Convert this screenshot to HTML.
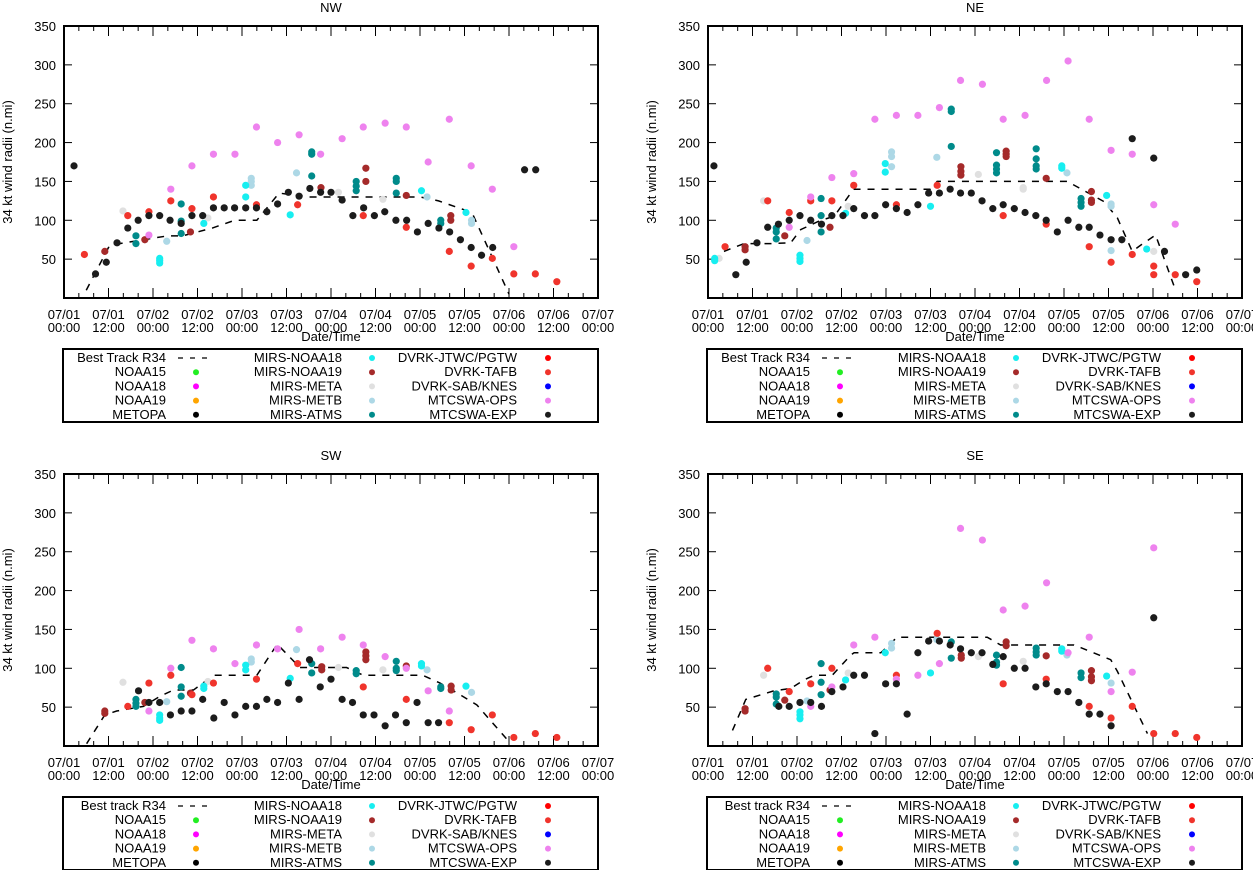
<!DOCTYPE html>
<html><head><meta charset="utf-8"><style>
body{margin:0;background:#fff;width:1253px;height:870px;overflow:hidden;font-family:"Liberation Sans",sans-serif;}
svg{position:absolute;left:0;top:0}
text{font-family:"Liberation Sans",sans-serif;font-size:13px;fill:#000}
</style></head><body>
<svg id="chart" width="1253" height="870"></svg>
<script>
const panelNames=["NW","NE","SW","SE"];
const xTickLabels=["07/01","07/01","07/02","07/02","07/03","07/03","07/04","07/04","07/05","07/05","07/06","07/06","07/07"];
const xTickTimes=["00:00","12:00","00:00","12:00","00:00","12:00","00:00","12:00","00:00","12:00","00:00","12:00","00:00"];
const yTicks=[50,100,150,200,250,300,350];
// data: [hours since 07/01 00:00, radius n.mi]
const nwBest=[[6,10],[12,65],[15,70],[28,80],[32,80],[40,90],[46,100],[52,100],[58,135],[66,130],[96,130],[101,125],[110,110],[120,5]];
const nwBlack=[[2.7,170],[8.5,31],[11.4,46],[14.3,71],[17.2,90],[20,100],[22.9,106],[25.8,106],[28.6,100],[31.6,96],[34.5,106],[37.4,106],[40.3,116],[43.2,116],[46,116],[49,116],[51.9,116],[54.7,111],[57.6,121],[60.5,136],[63.4,131],[66.3,141],[69.2,136],[72,136],[75,126],[77.9,106],[80.8,116],[83.7,106],[86.5,111],[89.5,100],[92.4,100],[95.3,85],[98.2,96],[101.1,90],[104,85],[106.9,75],[109.8,65],[112.6,55],[115.6,65],[124.2,165],[127.2,165]];
const nwViolet=[[22.9,81],[28.8,140],[34.5,170],[40.3,185],[46.1,185],[51.9,220],[57.6,200],[63.4,210],[69.2,185],[75,205],[80.7,220],[86.6,225],[92.3,220],[98.2,175],[103.9,230],[109.8,170],[115.5,140],[121.3,66]];
const nwRed=[[5.5,56],[17.2,106],[22.9,111],[28.8,125],[34.5,115],[40.3,130],[51.9,120],[63,120],[80.7,106],[92.3,91],[103.9,60],[109.8,41],[115.5,51],[121.3,31],[127.1,31],[132.9,21]];
const nwBrown=[[11,60],[21.8,75],[34.1,85],[69.3,142],[81.4,167],[81.4,150],[92.3,132],[104.3,106],[104.3,100]];
const nwTeal=[[19.4,80],[19.4,70],[31.6,121],[31.6,99],[31.6,83],[66.8,188],[66.8,185],[66.8,157],[78.8,150],[78.8,144],[78.8,138],[89.6,154],[89.6,150],[89.6,135],[101.6,100],[101.6,96]];
const nwCyan=[[25.8,51],[25.8,45],[25.8,48],[49,145],[49,130],[61,107],[96.4,138],[108.4,110],[37.7,96]];
const nwLight=[[27.7,73],[50.5,154],[50.5,150],[50.5,145],[62.7,161],[97.9,130],[109.9,96],[109.9,100]];
const nwGray=[[15.9,112],[38.8,103],[74,136],[86,127]];

const neBest=[[4.3,60],[9.7,70],[17,70],[22.3,71],[25,88],[30.4,100],[34,105],[38.5,135],[39.4,140],[60,140],[61.8,150],[96.9,150],[106.8,124],[110.4,103],[114.4,60],[116.7,68],[120.7,81],[125.7,15]];
const neBlack=[[1.6,170],[7.5,30],[10.3,46],[13.2,71],[16.1,91],[19,95],[21.9,100],[24.8,106],[27.7,100],[30.6,95],[33.4,106],[36.4,106],[39.3,115],[42.2,106],[45,106],[47.9,120],[50.8,115],[53.7,110],[56.6,120],[59.5,135],[62.4,135],[65.3,140],[68.1,135],[71,135],[73.9,125],[76.8,115],[79.6,120],[82.6,115],[85.5,110],[88.4,106],[91.2,100],[94.2,85],[97.1,100],[100,91],[102.8,91],[105.7,81],[108.7,75],[111.6,75],[114.4,205],[120.2,180],[123.1,60],[128.8,30],[131.8,36]];
const neViolet=[[21.9,91],[27.7,130],[33.4,155],[39.3,160],[45,230],[50.8,235],[56.6,235],[62.4,245],[68.1,280],[74,275],[79.6,230],[85.5,235],[91.3,280],[97.1,305],[102.8,230],[108.7,190],[114.4,185],[120.2,120],[126,95]];
const neRed=[[4.6,66],[16.1,125],[21.9,110],[27.7,125],[33.4,125],[39.3,145],[50.8,120],[61.8,145],[79.6,106],[91.2,95],[102.8,66],[108.7,46],[114.4,56],[120.2,41],[120.2,30],[126,30],[131.8,21]];
const neBrown=[[10,66],[10,62],[20.7,80],[32.9,91],[68.2,169],[68.2,163],[68.2,158],[80.4,189],[80.4,185],[80.4,182],[91.2,154],[103.4,137],[103.4,126],[103.4,123]];
const neTeal=[[18.4,90],[18.4,85],[18.4,76],[30.5,128],[30.5,106],[30.5,85],[65.6,243],[65.6,240],[65.6,195],[77.8,187],[77.8,171],[77.8,166],[77.8,161],[88.5,192],[88.5,179],[88.5,170],[88.5,166],[100.6,128],[100.6,123],[100.6,118]];
const neCyan=[[1.8,51],[1.8,48],[24.8,55],[24.8,51],[24.8,47],[47.8,173],[47.8,162],[60,118],[95.4,170],[95.4,167],[107.5,132],[118.3,63],[37.1,109]];
const neLight=[[26.7,74],[49.5,188],[49.5,182],[49.5,169],[61.7,181],[96.8,161],[108.7,118],[108.7,121],[108.7,61]];
const neGray=[[3,51],[15,125],[37.8,118],[72.9,159],[85,140],[85,142],[120.2,60]];

const swBest=[[6.1,3],[11,40],[14.2,45],[21.4,51],[25.9,64],[29.5,72],[34.9,72],[40.3,91],[52,91],[57.5,131],[63.6,101],[76.2,101],[80.7,91],[96.7,91],[101.4,81],[106.8,66],[111.3,53],[120.3,4]];
const swBlack=[[20.1,71],[22.9,56],[25.8,56],[28.7,40],[31.6,45],[34.5,45],[37.4,60],[40.4,36],[43.2,56],[46.1,40],[49,51],[51.9,51],[54.7,60],[57.6,56],[60.5,81],[63.4,60],[66.2,111],[69.1,76],[72,86],[75,60],[77.8,56],[80.7,40],[83.6,40],[86.6,26],[89.4,40],[92.3,30],[95.2,56],[98.2,30],[101,30]];
const swViolet=[[22.9,45],[28.8,100],[34.5,136],[40.3,125],[46.1,106],[51.9,130],[57.6,125],[63.4,150],[69.2,125],[75,140],[80.7,130],[86.6,115],[92.3,100],[98.2,71],[103.9,45]];
const swRed=[[17.2,51],[22.9,81],[28.8,91],[34.5,66],[40.3,81],[51.9,86],[63,106],[80.7,76],[92.3,60],[103.9,30],[109.8,21],[115.5,40],[121.3,11],[127.1,16],[132.9,11]];
const swBrown=[[11,45],[11,42],[21.8,56],[34.1,68],[69.5,102],[69.5,98],[81.4,121],[81.4,116],[81.4,111],[92.3,103],[104.4,77],[104.4,72]];
const swTeal=[[19.4,60],[19.4,55],[19.4,51],[31.6,101],[31.6,76],[31.6,64],[66.8,106],[66.8,94],[78.8,97],[78.8,93],[89.6,109],[89.6,100],[89.6,97],[101.6,76],[101.6,74]];
const swCyan=[[25.8,40],[25.8,36],[25.8,33],[49,104],[49,98],[61,87],[96.4,106],[96.4,103],[108.4,77],[37.7,77],[37.7,74]];
const swLight=[[27.7,57],[50.5,112],[50.5,108],[62.7,124],[97.9,98],[109.9,69]];
const swGray=[[15.9,82],[38.8,83],[74,101],[86,98]];

const seBest=[[6.6,20],[10.2,60],[17.8,71],[22.3,74],[25.9,85],[28.6,91],[33.5,91],[38.5,117],[39.4,120],[46.6,120],[51,140],[75.3,140],[78.9,130],[98.7,130],[108.6,111],[110.4,96],[118.5,16]];
const seBlack=[[19.1,51],[21.9,51],[24.8,56],[27.7,56],[30.6,51],[33.4,70],[36.4,76],[39.3,91],[42.2,91],[45,16],[47.9,80],[50.8,80],[53.7,41],[56.6,120],[59.5,135],[62.4,135],[65.3,130],[68.1,125],[71,120],[73.9,120],[76.8,105],[79.6,115],[82.6,100],[85.5,100],[88.4,76],[91.2,80],[94.2,70],[97.1,70],[100,56],[102.8,41],[105.7,41],[108.7,26],[120.2,165]];
const seViolet=[[27.7,51],[33.4,76],[39.3,130],[45,140],[50.8,86],[56.6,91],[62.4,106],[68.1,280],[74,265],[79.6,175],[85.5,180],[91.3,210],[97.1,120],[102.8,140],[108.7,70],[114.4,95],[120.2,255]];
const seRed=[[16.1,100],[21.9,70],[27.7,80],[33.4,100],[50.8,91],[61.8,145],[79.6,80],[91.2,86],[102.8,51],[108.7,36],[114.4,51],[120.2,16],[126,16],[131.8,11]];
const seBrown=[[10,48],[10,45],[20.7,59],[32.9,72],[68.3,117],[68.3,113],[80.4,134],[80.4,129],[91.2,116],[103.4,97],[103.4,89],[103.4,84]];
const seTeal=[[18.4,67],[18.4,63],[18.4,54],[30.5,106],[30.5,82],[30.5,66],[65.6,134],[65.6,113],[77.8,117],[77.8,108],[77.8,104],[88.5,126],[88.5,121],[88.5,117],[100.6,94],[100.6,88]];
const seCyan=[[24.8,44],[24.8,40],[24.8,35],[47.8,120],[60,94],[95.4,125],[95.4,122],[107.5,90],[37.1,85]];
const seLight=[[26.7,58],[49.5,132],[49.5,126],[61.7,137],[96.8,117],[108.7,81]];
const seGray=[[15,91],[37.8,94],[72.9,115],[85,109]];

const colors={black:"#1c1c1c",violet:"#ee82ee",red:"#f0342c",brown:"#a52a2a",teal:"#008b8b",cyan:"#17eef0",light:"#add8e6",gray:"#e0e0e0"};
const panelData=[
 {best:nwBest,s:{gray:nwGray,light:nwLight,cyan:nwCyan,teal:nwTeal,brown:nwBrown,red:nwRed,violet:nwViolet,black:nwBlack},bt:"Best Track R34"},
 {best:neBest,s:{gray:neGray,light:neLight,cyan:neCyan,teal:neTeal,brown:neBrown,red:neRed,violet:neViolet,black:neBlack},bt:"Best Track R34"},
 {best:swBest,s:{gray:swGray,light:swLight,cyan:swCyan,teal:swTeal,brown:swBrown,red:swRed,violet:swViolet,black:swBlack},bt:"Best track R34"},
 {best:seBest,s:{gray:seGray,light:seLight,cyan:seCyan,teal:seTeal,brown:seBrown,red:seRed,violet:seViolet,black:seBlack},bt:"Best track R34"}
];
const legend1=["NOAA15","NOAA18","NOAA19","METOPA"];
const legend1c=["#22ee22","#ff00ff","#ffa500","#000000"];
const legend2=["MIRS-NOAA18","MIRS-NOAA19","MIRS-META","MIRS-METB","MIRS-ATMS"];
const legend2c=["#17eef0","#a52a2a","#e0e0e0","#add8e6","#008b8b"];
const legend3=["DVRK-JTWC/PGTW","DVRK-TAFB","DVRK-SAB/KNES","MTCSWA-OPS","MTCSWA-EXP"];
const legend3c=["#ff0000","#f0342c","#0000ff","#ee82ee","#1c1c1c"];

const NS="http://www.w3.org/2000/svg";
const svg=document.getElementById('chart');
function mk(tag,attrs,parent,txt){const e=document.createElementNS(NS,tag);for(const k in attrs)e.setAttribute(k,attrs[k]);if(txt!==undefined)e.textContent=txt;(parent||svg).appendChild(e);return e;}
const W=534,H=272;
panelNames.forEach((name,pi)=>{
  const ox=pi%2?708:64, oy=pi<2?26:474;
  const g=mk('g',{});
  
  
  const X=h=>ox+h*W/144, Y=v=>oy+H-v*H/350;
  const t=mk('text',{x:ox+W/2,y:oy-14,'text-anchor':'middle'},g,name);
  
  
  const yl=mk('text',{x:0,y:0,'text-anchor':'middle',transform:`translate(${ox-52},${oy+H/2}) rotate(-90)`},g,"34 kt wind radii (n.mi)");
  
  
  yTicks.forEach(v=>{
    mk('line',{x1:ox,x2:ox+8,y1:Y(v),y2:Y(v),stroke:'#000','stroke-width':1},g);
    mk('line',{x1:ox+W,x2:ox+W-8,y1:Y(v),y2:Y(v),stroke:'#000','stroke-width':1},g);
    const tl=mk('text',{x:ox-8,y:Y(v)+5,'text-anchor':'end'},g,String(v));
    
    
  });
  for(let h=0;h<=144;h+=4){
    const major=h%12===0, len=major?10:5;
    mk('line',{x1:X(h),x2:X(h),y1:oy+H,y2:oy+H-len,stroke:'#000','stroke-width':1},g);
    mk('line',{x1:X(h),x2:X(h),y1:oy,y2:oy+len,stroke:'#000','stroke-width':1},g);
  }
  xTickLabels.forEach((l,i)=>{
    const tx=mk('text',{x:X(i*12),y:oy+H+21,'text-anchor':'middle'},g,l);
    
    
    mk('text',{x:X(i*12),y:oy+H+34,'text-anchor':'middle'},g,xTickTimes[i]);
  });
  const xt=mk('text',{x:ox+W/2,y:oy+H+43,'text-anchor':'middle'},g,"Date/Time");
  
  
  const pd=panelData[pi];
  const bl=mk('polyline',{points:pd.best.map(p=>X(p[0])+','+Y(p[1])).join(' '),fill:'none',stroke:'#000','stroke-width':1.5,'stroke-dasharray':'7,7'},g);
  
  
  for(const k in pd.s){
    pd.s[k].forEach(p=>{
      const c=mk('circle',{cx:X(p[0]),cy:Y(p[1]),r:3.6,fill:colors[k]},g);
      
      
    });
  }
  mk('rect',{x:ox,y:oy,width:W,height:H,fill:'none',stroke:'#000','stroke-width':2},g);
  // legend
  const ly=oy+323;
  const lg=mk('g',{},g);
  
  
  mk('rect',{x:ox-1,y:ly,width:W+1,height:73,fill:'none',stroke:'#000','stroke-width':2},lg);
  const rows=[0,1,2,3,4].map(i=>ly+13+i*14.2);
  const e0=mk('text',{x:ox+102,y:rows[0]},lg,pd.bt);e0.setAttribute('text-anchor','end');
  
  
  mk('line',{x1:ox+114,x2:ox+150,y1:rows[0]-4,y2:rows[0]-4,stroke:'#000','stroke-width':1.2,'stroke-dasharray':'5,7'},lg);
  legend1.forEach((l,i)=>{
    const e=mk('text',{x:ox+102,y:rows[i+1],'text-anchor':'end'},lg,l);
    
    
    mk('circle',{cx:ox+132,cy:rows[i+1]-4,r:3,fill:legend1c[i]},lg);
  });
  legend2.forEach((l,i)=>{
    const e=mk('text',{x:ox+278,y:rows[i],'text-anchor':'end'},lg,l);
    
    
    mk('circle',{cx:ox+308,cy:rows[i]-4,r:3,fill:legend2c[i]},lg);
  });
  legend3.forEach((l,i)=>{
    const e=mk('text',{x:ox+453,y:rows[i],'text-anchor':'end'},lg,l);
    
    
    mk('circle',{cx:ox+484,cy:rows[i]-4,r:3,fill:legend3c[i]},lg);
  });
});
</script>
</body></html>
